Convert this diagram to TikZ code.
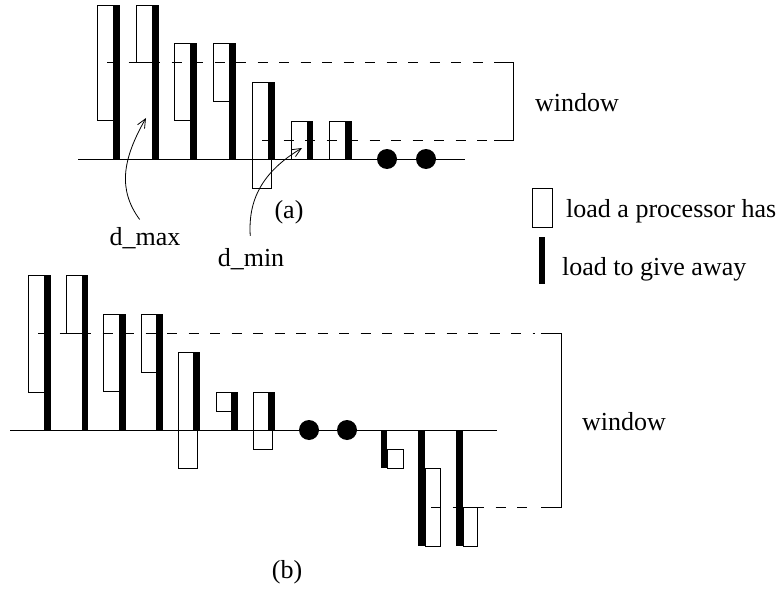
\documentclass[tikz,border=0pt]{standalone}
\usepackage{fontspec}
\setmainfont{Liberation Serif}
\usetikzlibrary{arrows.meta}

\begin{document}
\begin{tikzpicture}[
  x=1pt, y=-1pt,
  every node/.style={font=\fontsize{26}{30}\selectfont, inner sep=0pt},
  hasload/.style={draw, line width=0.8pt},
  giveload/.style={fill=black},
  axis/.style={line width=1pt},
  limit/.style={dash pattern=on 10pt off 11.5pt, line width=0.8pt},
  bracket/.style={line width=0.8pt},
  pointer/.style={-{Straight Barb[length=9pt,width=8pt]}, line width=0.8pt},
  dot/.style={circle, fill=black, minimum size=20pt, inner sep=0pt}
]
  \useasboundingbox (0,0) rectangle (780,594);

  % (a): loads and parts to give away
  \foreach \wl/\wt/\wr/\wb/\bl/\br/\bt/\bb in {
      97/5/113/120/113/120/5/159, 136/5/152/62/152/159/5/159,
      174/43/190/120/190/197/43/159, 213/43/229/101/229/236/43/159,
      252/82/271/188/268/275/82/159, 291/121/307/159/307/313/121/159,
      329/121/345/159/345/352/121/159}
  {
    \draw[hasload] (\wl,\wt) rectangle (\wr,\wb);
    \fill[giveload] (\bl,\bt) rectangle (\br,\bb);
  }
  \draw[axis] (78,159) -- (465,159);
  \node[dot] (adot1) at (387,159) {};
  \node[dot] (adot2) at (426,159) {};
  \draw[limit] (107,62.5) -- (494,62.5);
  \draw[limit] (262,140) -- (494,140);
  \draw[bracket] (494,62.5) -- (513,62.5) -- (513,140) -- (494,140);
  \node[anchor=base west] (awindow) at (535,111) {window};
  \node[anchor=base] (alabel) at (289,218) {(a)};

  \node[anchor=base] (dmax) at (145,245) {d\_max};
  \node[anchor=base] (dmin) at (251,266) {d\_min};
  \coordinate (dmaxtip) at (146,118);
  \coordinate (dmintip) at (302,148);
  \draw[pointer, shorten <=9pt] (dmax.north) .. controls (118,190) and (122,160) .. (dmaxtip);
  \draw[pointer, shorten <=12pt] (dmin.north) .. controls (248,200) and (262,172) .. (dmintip);

  % legend
  \draw[hasload] (532,188) rectangle (552,227);
  \fill[giveload] (539,237) rectangle (545,284);
  \node[anchor=base west] (hastext) at (566,217) {load a processor has};
  \node[anchor=base west] (givetext) at (562,275) {load to give away};

  % (b): loads above and below the average
  \foreach \wl/\wt/\wr/\wb/\bl/\br/\bt/\bb in {
      28/275/44/392/44/51/275/430, 66/275/82/333/82/88/275/430,
      103/314/119/391/119/126/314/430, 141/314/156/372/156/163/314/430,
      178/352/197/468/193/200/352/430, 216/392/231/411/231/238/392/430,
      253/392/272/449/268/275/392/430, 387/449/403/468/381/387/430/468,
      425/468/440/546/418/425/430/546, 463/507/477/546/456/463/430/546}
  {
    \draw[hasload] (\wl,\wt) rectangle (\wr,\wb);
    \fill[giveload] (\bl,\bt) rectangle (\br,\bb);
  }
  \draw[axis] (10,430) -- (497,430);
  \node[dot] (bdot1) at (309,430) {};
  \node[dot] (bdot2) at (347,430) {};
  \draw[limit] (38,333) -- (535,333);
  \draw[limit] (431,507) -- (535,507);
  \draw[bracket] (541,333) -- (561,333) -- (561,507) -- (541,507);
  \node[anchor=base west] (bwindow) at (582,430) {window};
  \node[anchor=base] (blabel) at (287,578) {(b)};
\end{tikzpicture}
\end{document}
